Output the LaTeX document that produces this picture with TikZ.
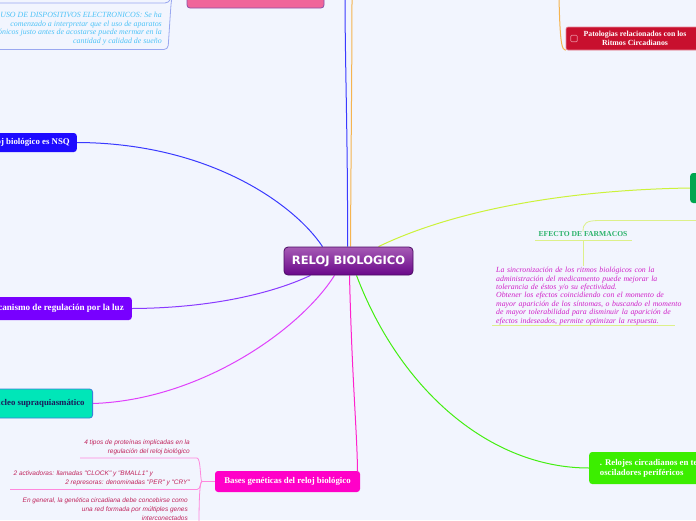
\documentclass[tikz,border=0pt]{standalone}
\usepackage{fontspec}
\setmainfont{Liberation Serif}
\newfontfamily\sansf{Liberation Sans}
\newfontfamily\dejaf{DejaVu Sans}
\usetikzlibrary{backgrounds}
\definecolor{bgc}{HTML}{F2F5FE}
\definecolor{ctop}{HTML}{A65BB5}
\definecolor{cbot}{HTML}{6A078A}
\definecolor{cbrd}{HTML}{4B0B63}
\definecolor{pinkn}{HTML}{F0659A}
\definecolor{pinkb}{HTML}{8B4FA8}
\definecolor{redn}{HTML}{C8102E}
\definecolor{redb}{HTML}{E8899A}
\definecolor{bluen}{HTML}{1E0BFF}
\definecolor{purpn}{HTML}{7800FF}
\definecolor{tealn}{HTML}{00E6B8}
\definecolor{tealb}{HTML}{3A80D8}
\definecolor{tealt}{HTML}{1A1A5A}
\definecolor{magn}{HTML}{FF00C8}
\definecolor{dgreen}{HTML}{00A64F}
\definecolor{bgreen}{HTML}{3CEE00}
\definecolor{lblue}{HTML}{3A3AFF}
\definecolor{lorange}{HTML}{F5B450}
\definecolor{lpurp}{HTML}{8A3AFF}
\definecolor{lmag}{HTML}{E040FB}
\definecolor{lpink}{HTML}{FF22CC}
\definecolor{lgreen}{HTML}{44EE11}
\definecolor{lyg}{HTML}{CCF23A}
\definecolor{lyg2}{HTML}{DDF08A}
\definecolor{llilac}{HTML}{9AA8F0}
\definecolor{lchild}{HTML}{FF88DD}
\definecolor{usot}{HTML}{4FC3F7}
\definecolor{bchild}{HTML}{C0245C}
\definecolor{efg}{HTML}{2DB36B}
\definecolor{parc}{HTML}{D020C8}
\tikzset{
  topicbox/.style={rounded corners=3pt, inner sep=0pt, text=white,
    font=\bfseries\fontsize{8.8}{10}\selectfont},
  conn/.style={line width=1pt},
  childline/.style={line width=0.8pt, rounded corners=4pt},
  childtxt/.style={align=right, inner sep=0pt, text=bchild,
    font=\sansf\itshape\fontsize{6.5}{8.6}\selectfont},
}
\begin{document}
\begin{tikzpicture}[x=1pt,y=-1pt]
\useasboundingbox (0,0) rectangle (696,520);
\clip (0,0) rectangle (696,520);

% ---------- nodes ----------
\node[draw=cbrd, line width=0.8pt, rounded corners=4pt, top color=ctop, bottom color=cbot,
  minimum width=129pt, minimum height=28pt, inner sep=0pt, text=white,
  font=\dejaf\bfseries\fontsize{11.5}{13}\selectfont] (c) at (348.5,261) {RELOJ BIOLOGICO};

\node[topicbox, draw=pinkb, line width=0.8pt, fill=pinkn, text=tealt,
  minimum width=137pt, minimum height=28pt] (pink) at (255.5,-6) {\strut\\[-3pt]Influencias en el reloj biológico};

\node[topicbox, draw=redb, line width=0.6pt, fill=redn, rounded corners=2pt,
  minimum width=132pt, minimum height=23pt, align=center,
  font=\bfseries\fontsize{7.8}{9}\selectfont] (red) at (632,38.5)
  {\hspace*{6pt}Patologias relacionados con los\\\hspace*{6pt}Ritmos Circadianos};
\node[draw=redb, line width=0.7pt, rounded corners=1pt, minimum size=6.5pt, inner sep=0pt]
  (chk) at (574,38.5) {};

\node[topicbox, fill=bluen, anchor=east, minimum height=19pt, inner xsep=7pt] (nsq) at (77,142.5)
  {Reloj biológico es NSQ};

\node[topicbox, fill=purpn, anchor=east, minimum height=23pt, inner xsep=8pt,
  font=\bfseries\fontsize{9.1}{10}\selectfont] (luz) at (132,308.5)
  {Mecanismo de regulación por la luz};

\node[topicbox, fill=tealn, draw=tealb, line width=0.8pt, text=tealt, anchor=east,
  minimum height=29pt, inner xsep=8pt] (nsc) at (93,403.5) {Núcleo supraquiasmático};

\node[topicbox, fill=magn, minimum width=145pt, minimum height=21pt] (bases) at (287.5,481.5)
  {Bases genéticas del reloj biológico};

\node[topicbox, fill=dgreen, anchor=west, minimum width=60pt, minimum height=30pt] (dg) at (690,188) {};

\node[topicbox, fill=bgreen, anchor=west, minimum width=140pt, minimum height=32pt,
  align=left, inner xsep=8pt] (bg) at (589,468)
  {. Relojes circadianos en tejidos:\\osciladores periféricos\hspace*{30pt}};

% text children
\node[anchor=north east, align=right, inner sep=0pt, text=usot,
  font=\itshape\fontsize{7.9}{8.6}\selectfont] (uso) at (162,12)
  {USO DE DISPOSITIVOS ELECTRONICOS: Se ha\\comenzado a interpretar que el uso de aparatos\\electrónicos justo antes de acostarse puede mermar en la\\cantidad y calidad de sueño};

\node[childtxt, anchor=south east] (b1) at (190,455) {4 tipos de proteínas implicadas en la\\regulación del reloj biológico};
\node[childtxt, anchor=south east] (b2) at (190,486) {2 activadoras: llamadas "CLOCK" y "BMALL1" y\hspace*{37pt}\\2 represoras: denominadas "PER" y "CRY"};
\node[childtxt, anchor=north east] (b3) at (188,498) {En general, la genética circadiana debe concebirse como\\una red formada por múltiples genes\\interconectados};

\node[inner sep=0pt, text=efg, font=\bfseries\fontsize{7.6}{9}\selectfont] (ef) at (583,234.5) {EFECTO DE FARMACOS};
\node[anchor=north west, align=left, inner xsep=4pt, inner ysep=1pt, text width=200pt, text=parc,
  font=\itshape\fontsize{7.8}{8.4}\selectfont] (par) at (492,266)
  {La sincronización de los ritmos biológicos con la\\administración del medicamento puede mejorar la\\tolerancia de éstos y/o su efectividad.\\Obtener los efectos coincidiendo con el momento de\\mayor aparición de los síntomas, o buscando el momento\\de mayor tolerabilidad para disminuir la aparición de\\efectos indeseados, permite optimizar la respuesta.};

\coordinate (topB) at (345,-3);
\coordinate (topO) at (352,-3);
\coordinate (topR) at (559,-3);
\coordinate (farR) at (700,220.5);
\coordinate (b3end) at (199,525);

% ---------- connectors ----------
\begin{scope}[on background layer]
\fill[bgc] (0,0) rectangle (696,520);
\draw[conn, lorange] ([xshift=2pt]c.north) .. controls (351,150) and (352,60) .. (topO);
\draw[conn, lblue] ([xshift=-1pt]c.north) .. controls (348,150) and (345,60) .. (topB);
\draw[conn, lblue] ([xshift=-26pt]c.north) .. controls (295,205) and (210,143) .. (nsq.east);
\draw[conn, lpurp] ([xshift=-38pt]c.south) .. controls (280,290) and (220,308) .. (luz.east);
\draw[conn, lmag] ([xshift=-14pt]c.south) .. controls (300,330) and (200,400) .. (nsc.east);
\draw[conn, lpink] ([xshift=1pt]c.south) .. controls (352,380) and (357,430) .. ([xshift=70pt]bases.north);
\draw[conn, lgreen] ([xshift=8pt]c.south) .. controls (400,390) and (490,468) .. (bg.west);
\draw[conn, lyg] ([xshift=30pt]c.north) .. controls (450,212) and (560,190) .. (dg.west);
\draw[conn, lorange] (topR) .. controls (560,45) and (562,50) .. (red.south west);
% top-left children
\draw[childline, llilac] (pink.west) .. controls (175,-6) and (172,-3) .. (171,4) -- (168,49.5) -- (0,49.5);
\draw[childline, llilac] (pink.west) .. controls (178,-6) and (171,-2) .. (169,3) -- (0,3);
% bases children
\draw[childline, lchild] (bases.west) -- (206,481.5) .. controls (200,481.5) and (201,458) .. (193,458) -- (80,458);
\draw[childline, lchild] (bases.west) -- (206,481.5) .. controls (200,481.5) and (201,489.5) .. (193,489.5) -- (10,489.5);
\draw[childline, lchild] (bases.west) -- (206,481.5) .. controls (200,481.5) and (199,495) .. (b3end);
% farmacos
\draw[line width=0.8pt, lyg2] (farR) -- (600,220.5) .. controls (586,220.5) and (583,223) .. (ef.north);
\draw[line width=0.8pt, lyg2] ([xshift=-48pt,yshift=-3.5pt]ef.south) -- ([xshift=49pt,yshift=-3.5pt]ef.south);
\draw[line width=0.8pt, lyg2] ([yshift=-3.5pt]ef.south) -- (par.north -| ef.south);
\draw[line width=0.8pt, lyg2] (par.south west) -- ([xshift=183pt]par.south west);
\end{scope}
\end{tikzpicture}
\end{document}
